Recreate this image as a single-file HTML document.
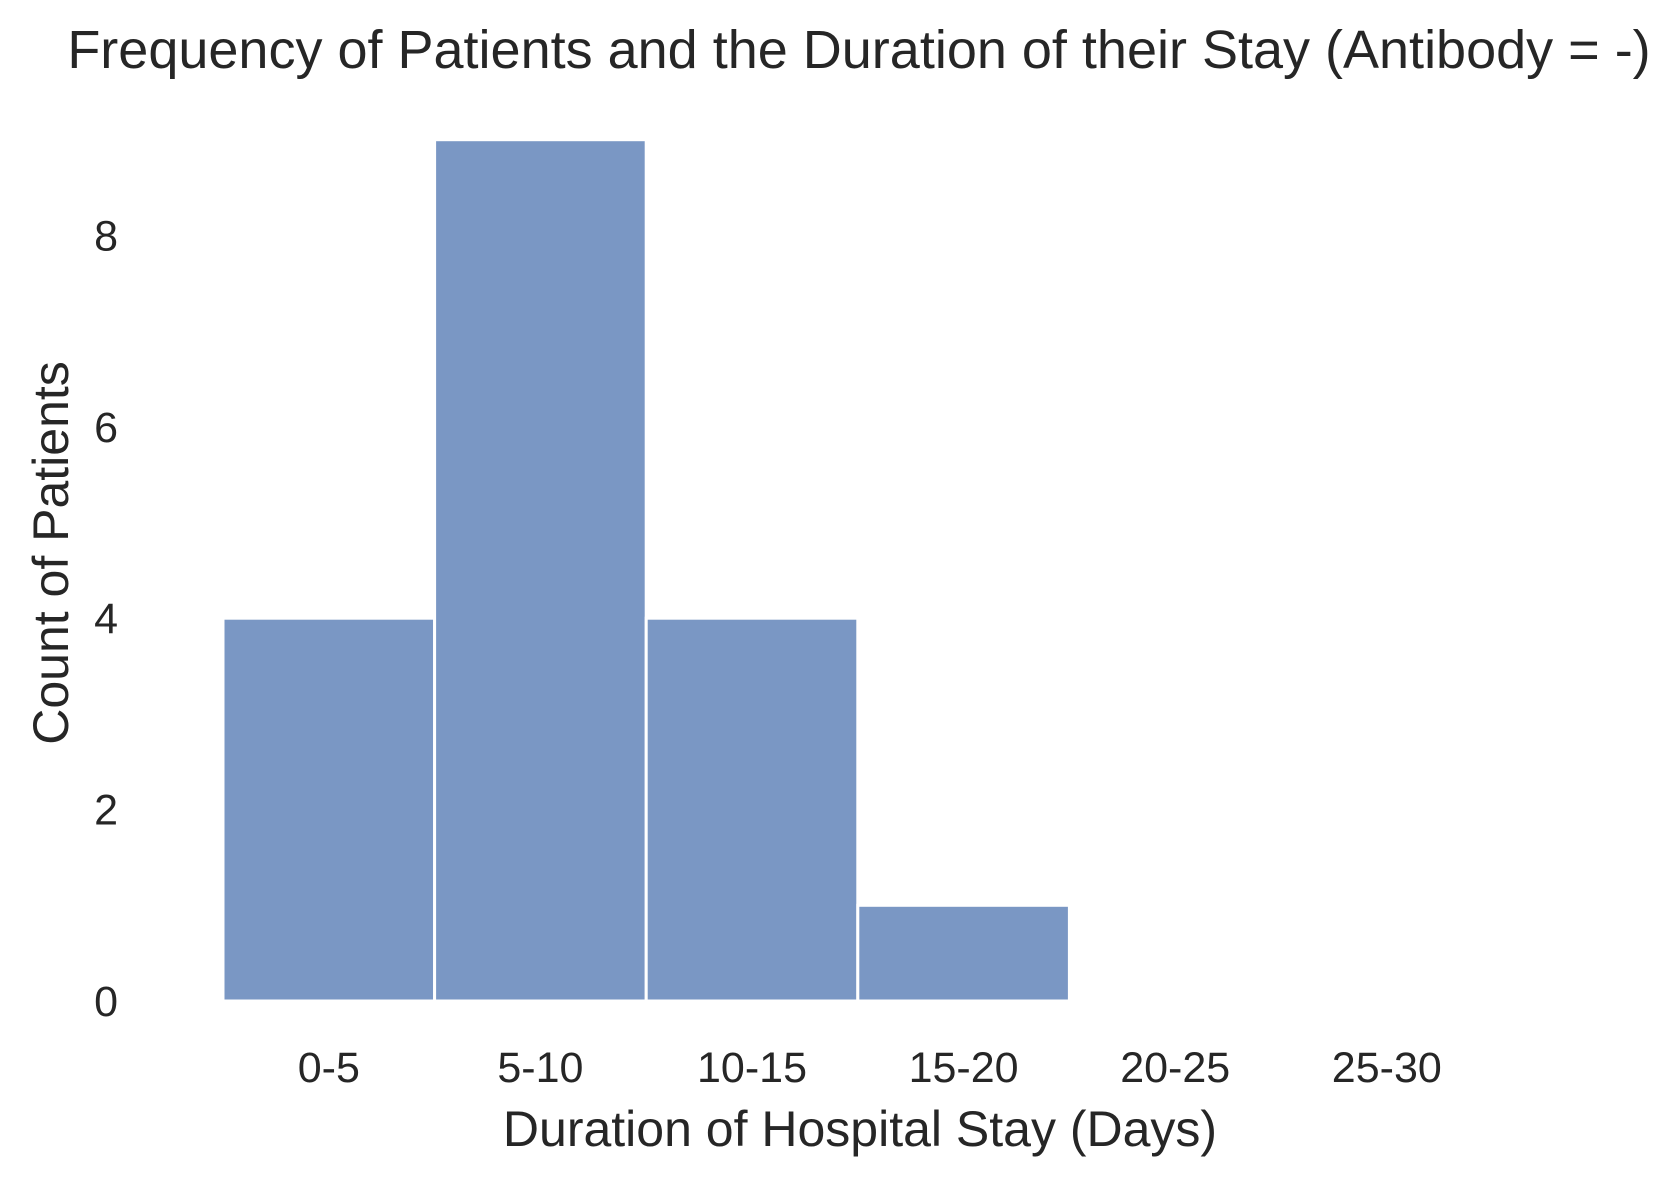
<!DOCTYPE html>
<html><head><meta charset="utf-8"><style>
html,body{margin:0;padding:0;background:#fff;}
svg{display:block;font-family:"Liberation Sans",Arial,sans-serif;}
</style></head><body>
<svg id="chart" width="1678" height="1178" viewBox="0 0 1678 1178">
<text x="859" y="68" font-size="54" fill="#262626" text-anchor="middle">Frequency of Patients and the Duration of their Stay (Antibody = -)</text>
<g id="bars"></g>
<g id="yticks"></g>
<g id="xticks"></g>
<text x="860" y="1146" font-size="50" fill="#262626" text-anchor="middle">Duration of Hospital Stay (Days)</text>
<text transform="translate(68,553) rotate(-90)" font-size="50" fill="#262626" text-anchor="middle">Count of Patients</text>
</svg>
<script>
const categories = ["0-5","5-10","10-15","15-20","20-25","25-30"];
const counts = [4, 9, 4, 1, 0, 0];
const yTicks = [0, 2, 4, 6, 8];

const NS = "http://www.w3.org/2000/svg";
const x0 = 223, binW = 211.6, y0 = 1001, yUnit = 95.7;
const xs = i => x0 + i * binW;
const ys = v => y0 - v * yUnit;

const bars = document.getElementById('bars');
counts.forEach((c, i) => {
  if (c <= 0) return;
  const r = document.createElementNS(NS, 'rect');
  r.setAttribute('x', xs(i));
  r.setAttribute('y', ys(c));
  r.setAttribute('width', binW);
  r.setAttribute('height', y0 - ys(c));
  r.setAttribute('fill', '#7a97c4');
  r.setAttribute('stroke', '#ffffff');
  r.setAttribute('stroke-width', '3');
  
  
  bars.appendChild(r);
});

const yg = document.getElementById('yticks');
yTicks.forEach(t => {
  const tx = document.createElementNS(NS, 'text');
  tx.setAttribute('x', 118);
  tx.setAttribute('y', ys(t) + 15);
  tx.setAttribute('font-size', '43');
  tx.setAttribute('fill', '#262626');
  tx.setAttribute('text-anchor', 'end');
  tx.textContent = t;
  
  
  yg.appendChild(tx);
});

const xg = document.getElementById('xticks');
categories.forEach((c, i) => {
  const tx = document.createElementNS(NS, 'text');
  tx.setAttribute('x', xs(i) + binW / 2);
  tx.setAttribute('y', 1082);
  tx.setAttribute('font-size', '43');
  tx.setAttribute('fill', '#262626');
  tx.setAttribute('text-anchor', 'middle');
  tx.textContent = c;
  
  
  xg.appendChild(tx);
});
</script>
</body></html>
